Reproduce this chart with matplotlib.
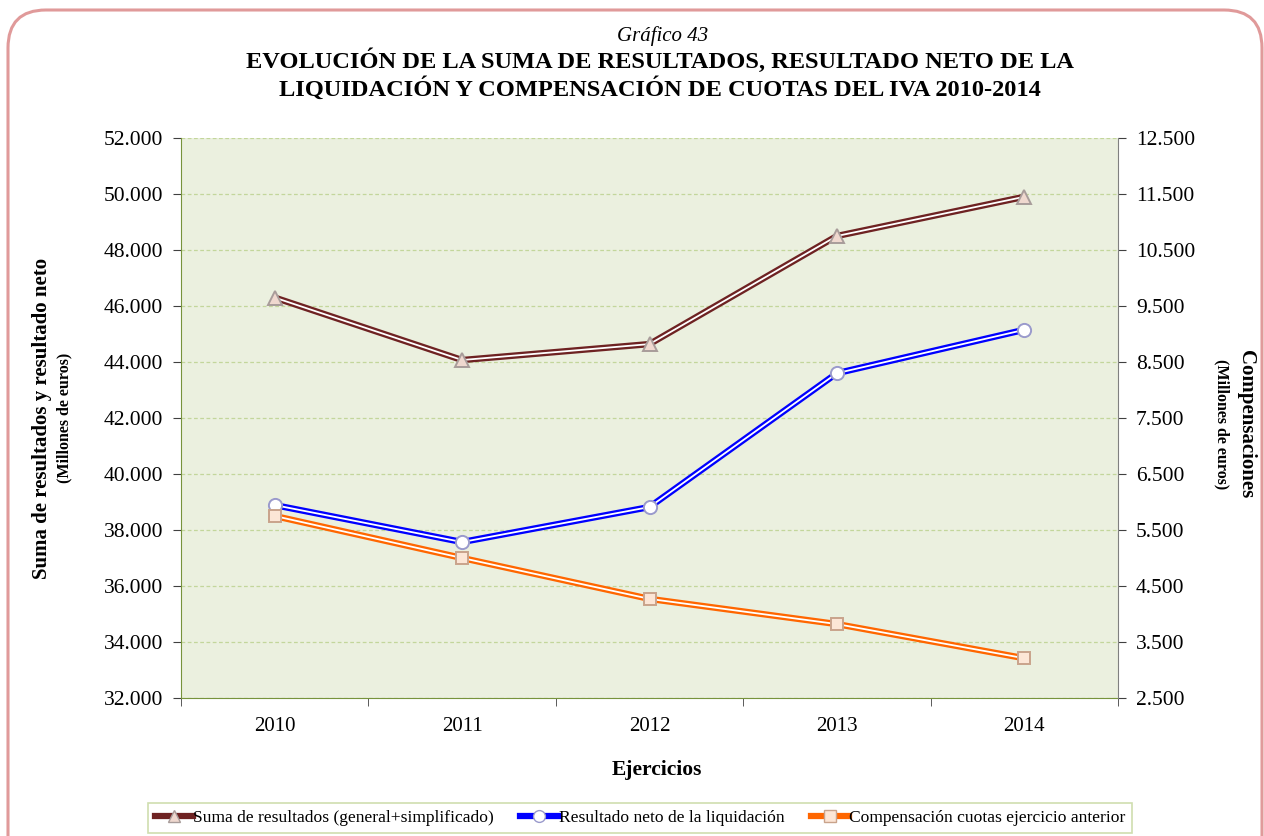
import matplotlib
matplotlib.use("Agg")
import matplotlib.pyplot as plt
from matplotlib.patches import FancyBboxPatch
from matplotlib.lines import Line2D
from matplotlib.ticker import FuncFormatter, FixedLocator

plt.rcParams['font.family'] = ['Liberation Serif', 'DejaVu Serif']

# Data (millones de euros)
years = ["2010", "2011", "2012", "2013", "2014"]
suma_resultados = [46300, 44070, 44640, 48500, 49900]
resultado_neto = [38890, 37570, 38820, 43600, 45150]
compensacion = [5750, 5000, 4270, 3820, 3210]

left_ticks = list(range(32000, 52001, 2000))
right_ticks = list(range(2500, 12501, 1000))

fig = plt.figure(figsize=(12.64, 8.36), dpi=100)
fig.patch.set_facecolor("white")

# rounded frame
frame = FancyBboxPatch((8 / 1264, -40 / 836), 1254 / 1264, (836 - 10 + 40) / 836,
                       boxstyle="round,pad=0,rounding_size=0.03",
                       transform=fig.transFigure, facecolor="none",
                       edgecolor="#E09A9A", linewidth=2.2, mutation_aspect=1264 / 836)
fig.patches.append(frame)

ax = fig.add_axes([181 / 1264, 138 / 836, (1118 - 181) / 1264, (698 - 138) / 836])
ax.set_facecolor("#EBF0DF")
ax2 = ax.twinx()

x = list(range(len(years)))


def fmt(v, pos=None):
    return f"{int(round(v)):,}".replace(",", ".")


ax.set_xlim(-0.5, len(years) - 0.5)
ax.set_ylim(32000, 52000)
ax2.set_ylim(2500, 12500)
ax.set_yticks(left_ticks)
ax2.set_yticks(right_ticks)
ax.yaxis.set_major_formatter(FuncFormatter(fmt))
ax2.yaxis.set_major_formatter(FuncFormatter(fmt))
ax.grid(axis="y", color="#C3D69B", linestyle=(0, (3, 2)), linewidth=0.9)
ax.set_axisbelow(True)

ax.set_xticks(x)
ax.set_xticklabels(years)
ax.xaxis.set_minor_locator(FixedLocator([i - 0.5 for i in range(len(years) + 1)]))
ax.tick_params(axis="x", which="major", length=0, pad=14, labelsize=15)
ax.tick_params(axis="x", which="minor", length=6, color="#404040", direction="out")
ax.tick_params(axis="y", length=6, direction="out", labelsize=15.5, pad=7, color="#404040")
ax2.tick_params(axis="y", length=6, direction="out", labelsize=15.5, pad=7, color="#404040")

ax.spines["top"].set_visible(False)
ax2.spines["top"].set_visible(False)
ax.spines["left"].set_color("#77933C")
ax.spines["bottom"].set_color("#77933C")
ax2.spines["left"].set_visible(False)
ax2.spines["bottom"].set_visible(False)
ax.spines["right"].set_visible(False)
ax2.spines["right"].set_color("#808080")


def double_line(axis, xs, ys, color, marker, mfc, mec, ms):
    axis.plot(xs, ys, color=color, linewidth=4.6, solid_capstyle="butt", zorder=3)
    axis.plot(xs, ys, color="white", linewidth=1.3, zorder=4)
    axis.plot(xs, ys, linestyle="none", marker=marker, markersize=ms,
              markerfacecolor=mfc, markeredgecolor=mec, markeredgewidth=1.4, zorder=5)


double_line(ax, x, suma_resultados, "#6E2222", "^", "#EFD8CF", "#A89C9A", 9.5)
double_line(ax, x, resultado_neto, "#0000FF", "o", "#FFFFFF", "#9A9ACC", 9.5)
double_line(ax2, x, compensacion, "#FF6600", "s", "#FCE6D6", "#C9A38B", 9)

# Titles
fig.text(663 / 1264, 1 - 36 / 836, "Gráfico 43", ha="center", va="center",
         fontsize=15, style="italic")
fig.text(660 / 1264, 1 - 61 / 836, "EVOLUCIÓN DE LA SUMA DE RESULTADOS, RESULTADO NETO DE LA",
         ha="center", va="center", fontsize=17.6, fontweight="bold")
fig.text(660 / 1264, 1 - 89 / 836, "LIQUIDACIÓN Y COMPENSACIÓN DE CUOTAS DEL IVA 2010-2014",
         ha="center", va="center", fontsize=17.6, fontweight="bold")

# Axis labels
fig.text(42 / 1264, 1 - 418 / 836, "Suma de resultados y resultado neto", rotation=90,
         ha="center", va="center", fontsize=15, fontweight="bold")
fig.text(64 / 1264, 1 - 418 / 836, "(Millones de euros)", rotation=90,
         ha="center", va="center", fontsize=11.5, fontweight="bold")
fig.text(1246 / 1264, 1 - 424 / 836, "Compensaciones", rotation=270,
         ha="center", va="center", fontsize=15, fontweight="bold")
fig.text(1222 / 1264, 1 - 424 / 836, "(Millones de euros)", rotation=270,
         ha="center", va="center", fontsize=11.5, fontweight="bold")
fig.text(657 / 1264, 1 - 770 / 836, "Ejercicios", ha="center", va="center",
         fontsize=15.5, fontweight="bold")

# Legend
handles = [
    Line2D([], [], color="#6E2222", linewidth=4.5, marker="^", markersize=8.5,
           markerfacecolor="#EFD8CF", markeredgecolor="#A89C9A"),
    Line2D([], [], color="#0000FF", linewidth=4.5, marker="o", markersize=8.5,
           markerfacecolor="#FFFFFF", markeredgecolor="#9A9ACC"),
    Line2D([], [], color="#FF6600", linewidth=4.5, marker="s", markersize=8,
           markerfacecolor="#FCE6D6", markeredgecolor="#C9A38B"),
]
labels = ["Suma de resultados (general+simplificado)", "Resultado neto de la liquidación",
          "Compensación cuotas ejercicio anterior"]
leg = fig.legend(handles, labels, loc="center", bbox_to_anchor=(640 / 1264, 1 - 818 / 836),
                 ncol=3, fontsize=12.6, frameon=True, fancybox=False,
                 handlelength=2.2, handletextpad=0.0, columnspacing=1.5,
                 borderpad=0.4, borderaxespad=0.0, edgecolor="#C3D69B")
leg.get_frame().set_linewidth(1.2)

fig.savefig("out.png", dpi=100)
